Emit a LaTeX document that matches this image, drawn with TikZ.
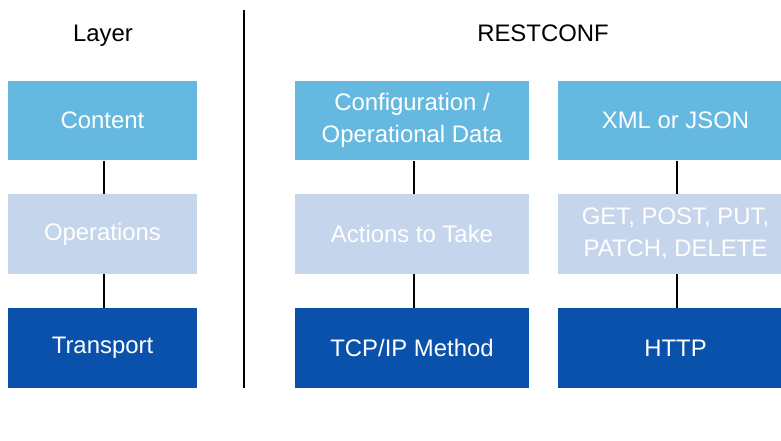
\documentclass[tikz,border=0pt]{standalone}
\usepackage{fontspec}
\setmainfont{Liberation Sans}
\usepackage{xcolor}
\usetikzlibrary{positioning}

\definecolor{topblue}{HTML}{65B9E0}
\definecolor{paleblue}{HTML}{C5D5EB}
\definecolor{darkblue}{HTML}{0A51AB}

\tikzset{
    layerbox/.style={rectangle, text=white, align=center, inner sep=0pt,
        minimum height=1.6cm, font=\fontsize{13.6}{18.1}\selectfont},
    contentbox/.style={layerbox, fill=topblue},
    opsbox/.style={layerbox, fill=paleblue},
    transbox/.style={layerbox, fill=darkblue},
    link/.style={line width=1.2pt, black},
    heading/.style={font=\fontsize{13.6}{16}\selectfont, anchor=base}
}

\begin{document}
\begin{tikzpicture}[x=0.02cm, y=-0.02cm]
    \useasboundingbox (0,0) rectangle (781,440);
    \clip (0,0) rectangle (781,440);

    % headings
    \node [heading] (layer) at (103,41) {Layer};
    \node [heading] (restconf) at (543,41) {RESTCONF};

    % separator
    \coordinate (septop) at (244,10);
    \coordinate (sepbot) at (244,388);
    \draw [line width=1.4pt] (septop) -- (sepbot);

    % layer column
    \node [contentbox, minimum width=3.78cm] (content) at (102.5,120.5) {Content};
    \node [opsbox, minimum width=3.78cm] (operations) at (102.5,234) {Operations};
    \node [transbox, minimum width=3.78cm] (transport) at (102.5,348) {Transport};

    % restconf, generic
    \node [contentbox, minimum width=4.68cm] (data) at (412,120.5) {Configuration /\\Operational Data};
    \node [opsbox, minimum width=4.68cm] (actions) at (412,234) {Actions to Take};
    \node [transbox, minimum width=4.68cm] (tcpip) at (412,348) {TCP/IP Method};

    % restconf, concrete
    \node [contentbox, minimum width=4.7cm] (format) at (675.5,120.5) {XML or JSON};
    \node [opsbox, minimum width=4.7cm] (verbs) at (675.5,234) {GET, POST, PUT,\\PATCH, DELETE};
    \node [transbox, minimum width=4.7cm] (http) at (675.5,348) {HTTP};

    \foreach \a/\b in {content/operations, operations/transport,
                       data/actions, actions/tcpip,
                       format/verbs, verbs/http}
        \draw [link] ([xshift=1]\a.south) -- ([xshift=1]\b.north);
\end{tikzpicture}
\end{document}
